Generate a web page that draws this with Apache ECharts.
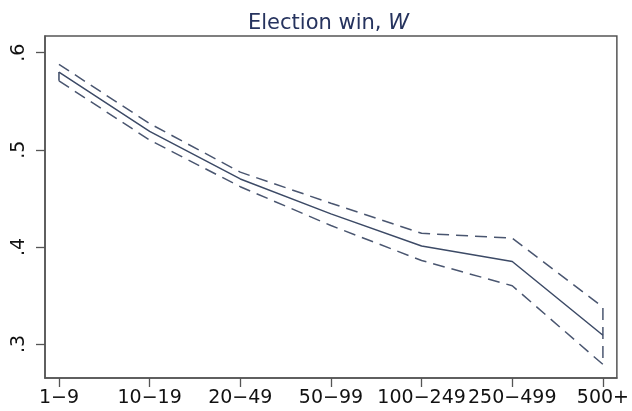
<!DOCTYPE html>
<html>
<head>
<meta charset="utf-8">
<script src="https://cdn.jsdelivr.net/npm/echarts@6/dist/echarts.min.js"></script>
<style>html,body{margin:0;padding:0;background:#fff;}#c{width:632px;height:411px;}</style>
</head>
<body>
<div id="c"></div>
<script>
var categories = ['1\u22129', '10\u221219', '20\u221249', '50\u221299', '100\u2212249', '250\u2212499', '500+'];
var estimate = [0.580, 0.519, 0.470, 0.434, 0.401, 0.385, 0.309];
var upper    = [0.588, 0.527, 0.477, 0.445, 0.414, 0.409, 0.338];
var lower    = [0.571, 0.510, 0.462, 0.422, 0.386, 0.360, 0.279];
var yTicks = [0.3, 0.4, 0.5, 0.6];
var yTickLabels = ['.3', '.4', '.5', '.6'];

function pts(arr) { return arr.map(function (v, i) { return [i, v]; }); }
var last = categories.length - 1;
var upperPath = pts(upper).concat([[last, lower[last]]]);
var startConnector = [[0, estimate[0]], [0, lower[0]]];

var chart = echarts.init(document.getElementById('c'), null, { renderer: 'canvas' });
var lineColor = '#3c4a66';
var font = 'DejaVu Sans';
chart.setOption({
  animation: false,
  backgroundColor: '#ffffff',
  title: {
    text: '{a|Election win, }{b|W}',
    left: 243,
    top: 8,
    textStyle: {
      fontWeight: 'normal',
      rich: {
        a: { fontFamily: font, fontSize: 21, fontWeight: 'normal', color: '#26335e' },
        b: { fontFamily: font, fontSize: 21, fontWeight: 'normal', color: '#26335e', fontStyle: 'italic' }
      }
    }
  },
  grid: { left: 45, right: 13, top: 36, bottom: 33, show: true, borderColor: '#555555', borderWidth: 1.5, backgroundColor: '#ffffff' },
  xAxis: {
    type: 'value',
    position: 'bottom',
    min: -0.154,
    max: last + 0.154,
    splitLine: { show: false },
    axisLine: { show: true, onZero: false, lineStyle: { color: '#555555', width: 1.5 } },
    axisTick: { show: true, inside: false, length: 9, customValues: categories.map(function (c, i) { return i; }), lineStyle: { color: '#555555', width: 1.3 } },
    axisLabel: {
      customValues: categories.map(function (c, i) { return i; }),
      formatter: function (v) { return categories[Math.round(v)]; },
      fontFamily: font, fontSize: 19, color: '#111111', margin: 11
    }
  },
  yAxis: {
    type: 'value',
    position: 'left',
    min: 0.265,
    max: 0.6172,
    splitLine: { show: false },
    axisLine: { show: true, onZero: false, lineStyle: { color: '#555555', width: 1.5 } },
    axisTick: { show: true, inside: false, length: 9, customValues: yTicks, lineStyle: { color: '#555555', width: 1.3 } },
    axisLabel: {
      customValues: yTicks,
      rotate: 90,
      formatter: function (v) {
        for (var i = 0; i < yTicks.length; i++) { if (Math.abs(yTicks[i] - v) < 1e-6) return yTickLabels[i]; }
        return '';
      },
      fontFamily: font, fontSize: 19, color: '#111111', margin: 16
    }
  },
  series: [
    { type: 'line', data: pts(estimate), symbol: 'none', lineStyle: { color: lineColor, width: 1.5 }, z: 3 },
    { type: 'line', data: startConnector, symbol: 'none', lineStyle: { color: lineColor, width: 1.5 }, z: 3 },
    { type: 'line', data: upperPath, symbol: 'none', lineStyle: { color: '#4a5670', width: 1.5, type: [12, 7] }, z: 2 },
    { type: 'line', data: pts(lower), symbol: 'none', lineStyle: { color: '#4a5670', width: 1.5, type: [12, 7] }, z: 2 }
  ]
});
</script>
</body>
</html>
